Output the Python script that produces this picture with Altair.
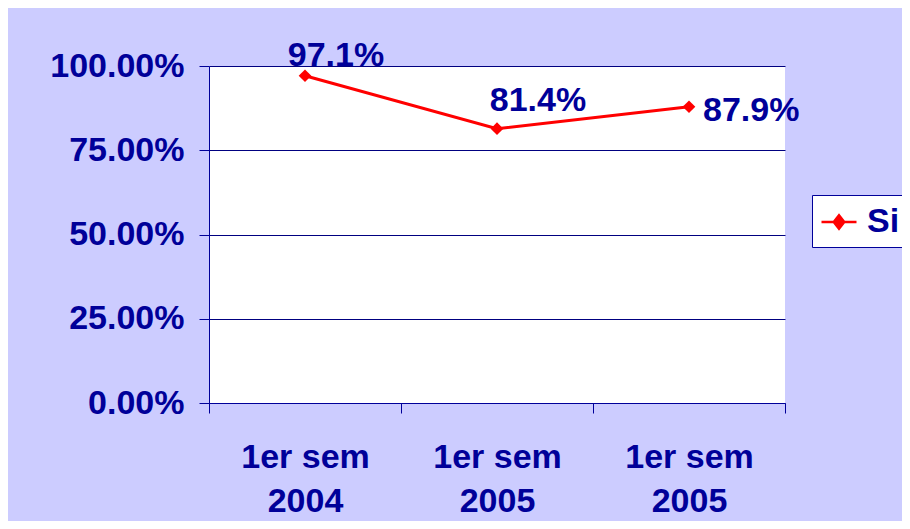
import json
import altair as alt
import pandas as pd

categories = ["1er sem\n2004", "1er sem\n2005", "1er sem\n2005"]
values = [0.971, 0.814, 0.879]
labels = ["97.1%", "81.4%", "87.9%"]
series = "Si"
y_ticks = [0.0, 0.25, 0.5, 0.75, 1.0]

NAVY = "#000099"
RED = "#FF0000"
BG = "#CCCCFF"
FONT = "Liberation Sans"

df = pd.DataFrame({
    "idx": list(range(len(categories))),
    "value": values,
    "label": labels,
    "series": [series] * len(categories),
})

label_lines = json.dumps([c.split("\n") for c in categories])

x_enc = alt.X(
    "idx:O",
    scale=alt.Scale(type="band", paddingInner=0, paddingOuter=0),
    axis=alt.Axis(
        title=None,
        labelExpr=f"{label_lines}[datum.value]",
        labelAngle=0,
        tickBand="extent",
        tickSize=10,
        tickColor=NAVY,
        domainColor=NAVY,
        labelFontSize=34,
        labelFont=FONT,
        labelFontWeight="bold",
        labelColor=NAVY,
        labelPadding=27,
        labelLineHeight=44,
        grid=False,
    ),
)
y_enc = alt.Y(
    "value:Q",
    scale=alt.Scale(domain=[0, 1], nice=False, zero=True),
    axis=alt.Axis(
        title=None,
        values=y_ticks,
        format=".2%",
        tickSize=10,
        tickColor=NAVY,
        domainColor=NAVY,
        gridColor="#000080",
        gridWidth=1,
        labelFontSize=34,
        labelFont=FONT,
        labelFontWeight="bold",
        labelColor=NAVY,
        labelPadding=15,
    ),
)

base = alt.Chart(df)

line = base.mark_line(color=RED, strokeWidth=3).encode(x=x_enc, y=y_enc)

points = base.mark_point(shape="diamond", filled=True, size=160, opacity=1).encode(
    x=x_enc,
    y=y_enc,
    color=alt.Color(
        "series:N",
        scale=alt.Scale(range=[RED]),
        legend=alt.Legend(
            title=None,
            orient="none",
            legendX=603,
            legendY=129,
            fillColor="white",
            strokeColor=NAVY,
            padding=8,
            symbolType="M-1,0H1M0,-0.38L0.3,0L0,0.38L-0.3,0Z",
            symbolSize=1225,
            symbolStrokeWidth=2.5,
            symbolStrokeColor=RED,
            symbolFillColor=RED,
            labelFontSize=34,
            labelFont=FONT,
            labelFontWeight="bold",
            labelColor=NAVY,
            labelOffset=9,
            labelLimit=0,
        ),
    ),
)

text_style = dict(baseline="alphabetic", fontSize=34, font=FONT, fontWeight="bold", color=NAVY)
offsets = [(31, -10, "center"), (41, -18, "center"), (14, 14, "left")]
texts = [
    base.transform_filter(alt.datum.idx == i)
    .mark_text(dx=dx, dy=dy, align=al, **text_style)
    .encode(x=x_enc, y=y_enc, text="label:N")
    for i, (dx, dy, al) in enumerate(offsets)
]

chart = alt.layer(line, points, *texts).properties(
    width=576,
    height=337,
    background=BG,
    padding={"left": 201, "top": 58, "right": 117, "bottom": 118},
    autosize=alt.AutoSizeParams(type="none"),
).configure_view(fill="white", strokeWidth=0)

chart.save("out.html", embed_options={"renderer": "svg", "actions": False})
